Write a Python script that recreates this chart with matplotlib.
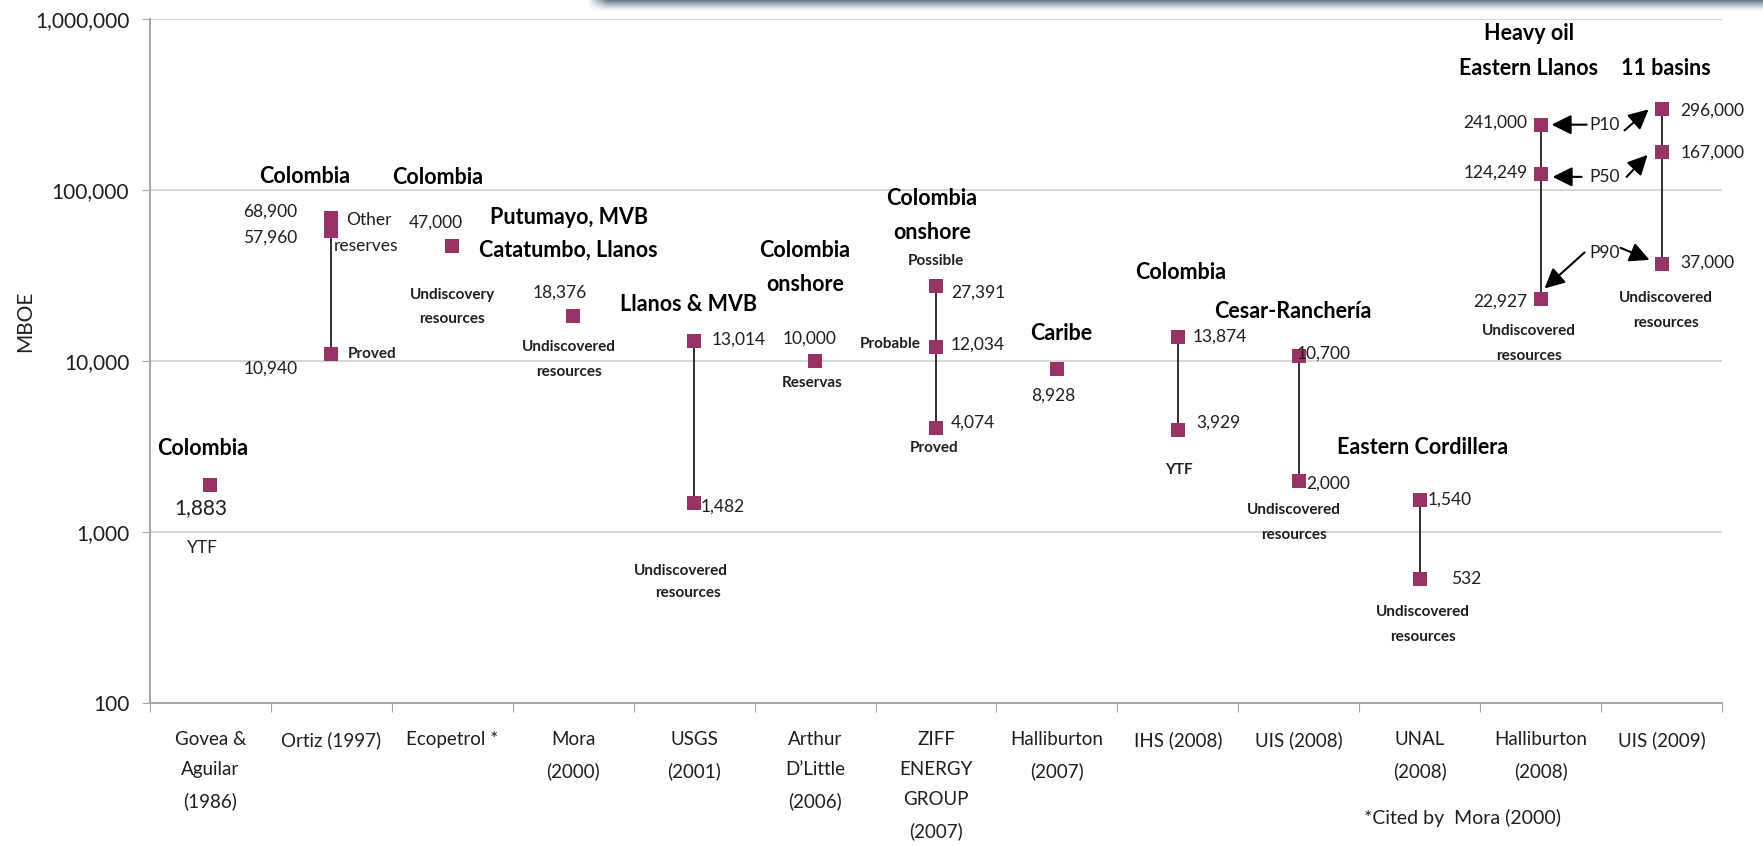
import matplotlib
matplotlib.use("Agg")
import matplotlib.pyplot as plt
import matplotlib.transforms as mtransforms
from matplotlib.ticker import FixedLocator, FuncFormatter, NullLocator
import numpy as np

plt.rcParams['font.family'] = ['Lato', 'DejaVu Sans']

# estimate sources along the x axis
sources = ["Govea &\nAguilar\n(1986)", "Ortiz (1997)", "Ecopetrol *", "Mora\n(2000)",
           "USGS\n(2001)", "Arthur\nD’Little\n(2006)", "ZIFF\nENERGY\nGROUP\n(2007)",
           "Halliburton\n(2007)", "IHS (2008)", "UIS (2008)", "UNAL\n(2008)",
           "Halliburton\n(2008)", "UIS (2009)"]

# resource estimates, MBOE
gove_aguilar = [1883]
ortiz = [68900, 57960, 10940]
ecopetrol = [47000]
mora = [18376]
usgs = [13014, 1482]
arthur_dlittle = [10000]
ziff = [27391, 12034, 4074]
halliburton_2007 = [8928]
ihs = [13874, 3929]
uis_2008 = [10700, 2000]
unal = [1540, 532]
halliburton_2008 = [241000, 124249, 22927]
uis_2009 = [296000, 167000, 37000]

estimates = [gove_aguilar, ortiz, ecopetrol, mora, usgs, arthur_dlittle, ziff,
             halliburton_2007, ihs, uis_2008, unal, halliburton_2008, uis_2009]

# area each estimate covers
regions = [["Colombia"], ["Colombia"], ["Colombia"], ["Putumayo, MVB", "Catatumbo, Llanos"],
           ["Llanos & MVB"], ["Colombia", "onshore"], ["Colombia", "onshore"], ["Caribe"],
           ["Colombia"], ["Cesar-Ranchería"], ["Eastern Cordillera"],
           ["Heavy oil", "Eastern Llanos"], ["11 basins"]]

# --- layout (offsets in pixels from a marker, y up) ---
# value labels: one (dx, dy, ha) per value
value_pos = [
    [(-10, -23, 'center')],
    [(-34, 6, 'right'), (-34, -7, 'right'), (-34, -14, 'right')],
    [(-16, 23, 'center')],
    [(-13, 23, 'center')],
    [(17, 2, 'left'), (6, -4, 'left')],
    [(-6, 22, 'center')],
    [(15, -6, 'left'), (15, 3, 'left'), (15, 5, 'left')],
    [(-4, -26, 'center')],
    [(15, 0, 'left'), (18, 8, 'left')],
    [(-2, 2, 'left'), (7, -3, 'left')],
    [(8, 0, 'left'), (31, 0, 'left')],
    [(-13, 2, 'right'), (-13, 1, 'right'), (-13, -2, 'right')],
    [(19, -1, 'left'), (19, -1, 'left'), (19, 1, 'left')],
]
# region heading lines, anchored on the first value
region_pos = [
    [(-8, 37)],
    [(-27, 41)],
    [(-15, 69)],
    [(-4, 98), (-5, 66)],
    [(-6, 37)],
    [(-10, 111), (-10, 77)],
    [(-4, 88), (-4, 54)],
    [(4, 36)],
    [(3, 64)],
    [(-6, 44)],
    [(3, 52)],
    [(-12, 91), (-12, 56)],
    [(4, 41)],
]
# small notes: (category, value index, text, dx, dy, ha, style)
notes = [
    (0, 0, "YTF", -8, -63, 'center', 'plain'),
    (1, 0, "Other", 15, -2, 'left', 'plain'),
    (1, 0, "reserves", 2, -28, 'left', 'plain'),
    (1, 2, "Proved", 16, 0, 'left', 'bold'),
    (2, 0, "Undiscovery", 0, -49, 'center', 'bold'),
    (2, 0, "resources", 0, -73, 'center', 'bold'),
    (3, 0, "Undiscovered", -4, -31, 'center', 'bold'),
    (3, 0, "resources", -4, -56, 'center', 'bold'),
    (4, 1, "Undiscovered", -13, -68, 'center', 'bold'),
    (4, 1, "resources", -6, -90, 'center', 'bold'),
    (5, 0, "Reservas", -3, -22, 'center', 'bold'),
    (6, 0, "Possible", 0, 25, 'center', 'bold'),
    (6, 1, "Probable", -15, 3, 'right', 'bold'),
    (6, 2, "Proved", -2, -20, 'center', 'bold'),
    (8, 1, "YTF", 1, -40, 'center', 'bold'),
    (9, 1, "Undiscovered", -5, -29, 'center', 'bold'),
    (9, 1, "resources", -5, -54, 'center', 'bold'),
    (10, 1, "Undiscovered", 3, -33, 'center', 'bold'),
    (10, 1, "resources", 3, -58, 'center', 'bold'),
    (11, 2, "Undiscovered", -12, -32, 'center', 'bold'),
    (11, 2, "resources", -12, -57, 'center', 'bold'),
    (12, 2, "Undiscovered", 4, -34, 'center', 'bold'),
    (12, 2, "resources", 4, -59, 'center', 'bold'),
    (11, 0, "P10", 64, 0, 'center', 'plain'),
    (11, 1, "P50", 64, -3, 'center', 'plain'),
    (11, 2, "P90", 64, 46, 'center', 'plain'),
]
# percentile arrows: (category, value index, tip dx, tip dy, tail dx, tail dy)
arrows = [
    (11, 0, 11, 0, 46, 0),
    (12, 0, -13, 0, -37, -21),
    (11, 1, 12, -3, 41, -3),
    (12, 1, -14, -3, -35, -25),
    (11, 2, 4, 11, 44, 47),
    (12, 2, -12, 4, -41, 16),
]

MARKER = '#993366'
TEXT = '#1e1e1e'
AXIS = '#a6a6a6'

fig = plt.figure(figsize=(17.63, 8.46), dpi=100)
W, H = 1763, 846
ax = fig.add_axes([150 / W, 1 - 703 / H, 1572 / W, 684 / H])

ax.set_yscale('log')
ax.set_xlim(0, len(sources))
ax.set_ylim(100, 1e6)

# connecting line for each source, then the markers
for i, vals in enumerate(estimates):
    x = np.full(len(vals), i + 0.5)
    if len(vals) > 1:
        ax.plot(x, vals, color='#303030', lw=1.4, zorder=3)
    ax.plot(x, vals, 's', color=MARKER, ms=9.5, mew=0, zorder=4)


def anchor(cat, idx):
    return cat + 0.5, estimates[cat][idx]


def put(cat, idx, s, dx, dy, ha, color=TEXT, **kw):
    ax.annotate(s, anchor(cat, idx), xytext=(dx, dy), textcoords='offset pixels',
                ha=ha, va='center', color=color, zorder=5, **kw)


for cat, vals in enumerate(estimates):
    for idx, v in enumerate(vals):
        dx, dy, ha = value_pos[cat][idx]
        size = 15 if cat == 0 else 12.5
        put(cat, idx, f"{v:,}", dx, dy, ha, fontsize=size)
    for line, (dx, dy) in zip(regions[cat], region_pos[cat]):
        put(cat, 0, line, dx, dy, 'center', color='black', fontsize=15.5, fontweight='bold')

for cat, idx, s, dx, dy, ha, style in notes:
    if style == 'bold':
        put(cat, idx, s, dx, dy, ha, fontsize=11, fontweight='bold')
    else:
        put(cat, idx, s, dx, dy, ha, fontsize=12.5)

for cat, idx, tx, ty, sx, sy in arrows:
    tr = mtransforms.offset_copy(ax.transData, fig=fig, x=tx, y=ty, units='dots')
    ax.annotate('', xy=anchor(cat, idx), xycoords=tr, xytext=(sx - tx, sy - ty),
                textcoords='offset pixels',
                arrowprops=dict(arrowstyle='-|>', color='black', lw=1.5,
                                mutation_scale=30, shrinkA=0, shrinkB=0))

# axes styling
ax.yaxis.set_major_locator(FixedLocator([1e2, 1e3, 1e4, 1e5, 1e6]))
ax.yaxis.set_minor_locator(NullLocator())
ax.yaxis.set_major_formatter(FuncFormatter(lambda v, _: f"{int(round(v)):,}"))
ax.tick_params(axis='y', which='major', length=6, color=AXIS, labelsize=15,
               labelcolor=TEXT, pad=9)
ax.set_xticks(np.arange(len(sources) + 1))
ax.set_xticks(np.arange(len(sources)) + 0.5, minor=True)
ax.set_xticklabels(sources, minor=True, linespacing=1.95)
ax.tick_params(axis='x', which='major', length=6.5, color=AXIS, labelbottom=False)
ax.tick_params(axis='x', which='minor', length=0, pad=20, labelsize=13.5, labelcolor=TEXT)
ax.grid(axis='y', which='major', color='#d0d0d0', lw=1.2)
ax.set_axisbelow(True)
for side in ('top', 'right'):
    ax.spines[side].set_visible(False)
for side in ('left', 'bottom'):
    ax.spines[side].set_color(AXIS)
    ax.spines[side].set_linewidth(1.4)

fig.text(25 / W, 1 - 321 / H, 'MBOE', rotation=90, ha='center', va='center',
         fontsize=15, color=TEXT)
fig.text(1462 / W, 1 - 818 / H, '*Cited by  Mora (2000)', ha='center', va='center',
         fontsize=14, color=TEXT)

# shaded bar along the top edge
bar = fig.add_axes([586 / W, 1 - 12 / H, 1 - 586 / W, 12 / H])
rows = np.linspace(0, 1, 12)
cols = np.linspace(0, 1, 400)
alpha = np.outer((1 - rows) ** 1.3, np.clip(cols * 60, 0, 1))
rgba = np.zeros((12, 400, 4))
rgba[..., 0] = 0.42
rgba[..., 1] = 0.49
rgba[..., 2] = 0.58
rgba[..., 3] = alpha
bar.imshow(rgba, aspect='auto', interpolation='bilinear')
bar.axis('off')

fig.savefig('out.png', dpi=100)
